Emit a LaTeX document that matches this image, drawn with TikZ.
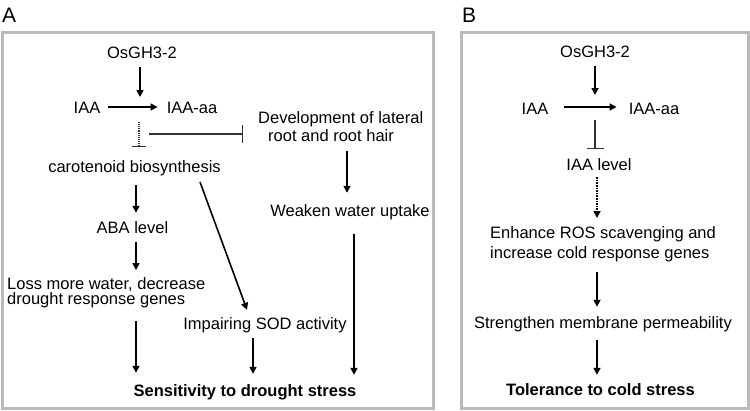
\documentclass[tikz,border=0pt]{standalone}
\usepackage{fontspec}
\setmainfont{Liberation Sans}
\usetikzlibrary{arrows.meta,calc}
\begin{document}
\begin{tikzpicture}[x=1pt,y=-1pt,
  txt/.style={font=\fontsize{16.5}{19}\selectfont, inner sep=0pt, text height=12pt, text depth=3.5pt, anchor=base},
  mtxt/.style={font=\fontsize{16.5}{#1}\selectfont, inner sep=0pt, align=left, anchor=north west},
  bld/.style={txt, font=\fontsize{16.5}{19}\selectfont\bfseries},
  arr/.style={line width=1.6pt, -{Triangle[length=7pt,width=7pt]}},
  inh/.style={line width=1.1pt, draw=black!80, -{Bar[width=#1]}},
  panel/.style={draw=black!27, line width=3pt},
  lbl/.style={font=\fontsize{21}{24}\selectfont, inner sep=0pt, anchor=base west}]
\useasboundingbox (0,0) rectangle (750,410);
\draw[panel] (2,32) rectangle (433.5,408.5);
\draw[panel] (461.5,32) rectangle (748,408.5);
\node[lbl] (labA) at (2,22) {A};
\node[lbl] (labB) at (462,22) {B};

% Panel A
\node[txt] (os) at (142,58) {OsGH3-2};
\node[txt] (iaa) at (87,113) {IAA};
\node[txt] (iaaaa) at (192,113) {IAA-aa};
\node[txt] (car) at (134.5,172) {carotenoid biosynthesis};
\node[mtxt=18] (dev) at (258,111) {Development of lateral\\\hspace*{10pt}root and root hair};
\node[txt] (weak) at (350,216) {Weaken water uptake};
\node[txt] (aba) at (132.5,233) {ABA level};
\node[mtxt=15.5] (loss) at (7,277) {Loss more water, decrease\\drought response genes};
\node[txt] (imp) at (265,329) {Impairing SOD activity};
\node[bld] (sens) at (245,396) {Sensitivity to drought stress};

\coordinate (j1) at (140,97);
\draw[arr] ($(j1 |- os.south)+(0,5.5)$) -- (j1);
\draw[arr] ($(iaa.base east)+(8,-6)$) -- ($(iaaaa.base west)+(-9,-6)$);
\coordinate (d1) at (139,122);
\draw[inh=14pt, densely dotted] (d1) -- ($(d1 |- car.north)+(0,-13)$);
\coordinate (h1) at (149,134);
\draw[inh=18pt] (h1) -- ($(h1 -| dev.west)+(-15,0)$);
\coordinate (cA) at (136,0);
\draw[arr] ($(cA |- car.south)+(0,9.5)$) -- ($(cA |- aba.north)+(0,-8)$);
\draw[arr] ($(cA |- aba.south)+(0,5.5)$) -- ($(cA |- loss.north)+(0,-7)$);
\draw[arr] ($(cA |- loss.south)+(0,12.5)$) -- ($(cA |- sens.north)+(0,-11)$);
\coordinate (dg) at (200,182);
\draw[arr] (dg) -- ($(imp.north)+(-18,-7)$);
\draw[arr] ($(imp.south)+(-12,5.5)$) -- ($(imp.south |- sens.north)+(-12,-10)$);
\coordinate (cW) at (347,0);
\draw[arr] ($(cW |- dev.south)+(0,9)$) -- ($(cW |- weak.north)+(0,-11)$);
\coordinate (cW2) at (354,0);
\draw[arr] ($(cW2 |- weak.south)+(0,14)$) -- ($(cW2 |- sens.north)+(0,-9)$);

% Panel B
\node[txt] (osb) at (595,57) {OsGH3-2};
\node[txt] (iaab) at (535,114) {IAA};
\node[txt] (iaaaab) at (654,114) {IAA-aa};
\node[txt] (lvl) at (599,170) {IAA level};
\node[mtxt=20] (enh) at (490,226) {Enhance ROS scavenging and\\increase cold response genes};
\node[txt] (str) at (603,328) {Strengthen membrane permeability};
\node[bld] (tol) at (600.5,395) {Tolerance to cold stress};

\coordinate (j2) at (595,95);
\draw[arr] ($(j2 |- osb.south)+(0,5)$) -- (j2);
\draw[arr] ($(iaab.base east)+(15,-7)$) -- ($(iaaaab.base west)+(-12,-7)$);
\coordinate (i2) at (595,120);
\draw[inh=17pt] (i2) -- ($(i2 |- lvl.north)+(0,-9)$);
\coordinate (cB) at (597,0);
\draw[arr, densely dotted] ($(cB |- lvl.south)+(0,3.5)$) -- ($(cB |- enh.north)+(0,-8)$);
\draw[arr] ($(cB |- enh.south)+(0,10.5)$) -- ($(cB |- str.north)+(0,-9)$);
\draw[arr] ($(cB |- str.south)+(0,8.5)$) -- ($(cB |- tol.north)+(0,-8)$);
\end{tikzpicture}
\end{document}
